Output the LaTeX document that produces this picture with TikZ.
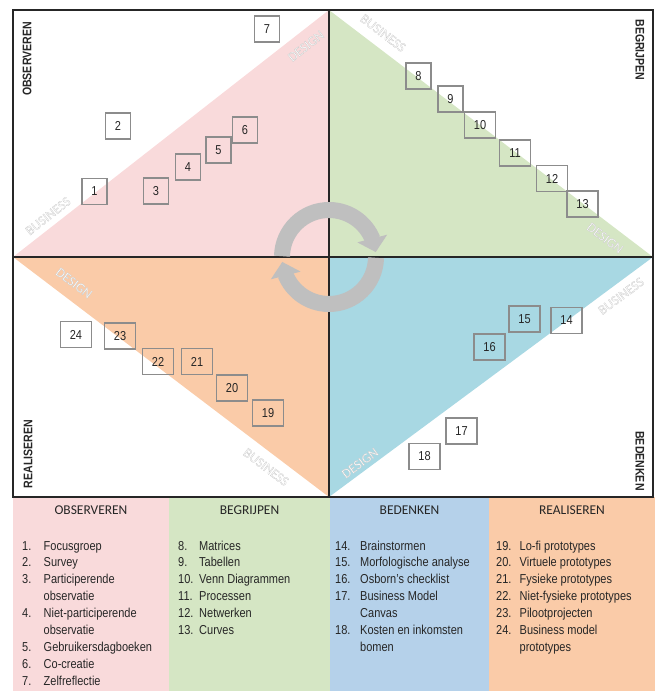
\documentclass[tikz,border=0pt]{standalone}
\usepackage{fontspec}
\setmainfont{Liberation Sans}
\newfontfamily\narrowfont[FakeStretch=0.85]{Liberation Sans}
\newfontfamily\calfont{Carlito}
\usetikzlibrary{arrows.meta,bending}

\definecolor{qpink}{HTML}{F9DADB}
\definecolor{qgreen}{HTML}{D5E6C4}
\definecolor{qcyan}{HTML}{A8D8E3}
\definecolor{qorange}{HTML}{FACBA8}
\definecolor{tblue}{HTML}{B5D1EA}
\definecolor{boxgray}{HTML}{8C8C8C}
\definecolor{ringgray}{HTML}{BFBFBF}
\definecolor{ink}{HTML}{262626}

% white letters with a thin grey outline (fill + stroke text render mode)
\newcommand\outlined[1]{{\color{white}%
  \special{pdf:literal direct 0.76 G 0.22 w 2 Tr}#1%
  \special{pdf:literal direct 0 Tr}}}

\tikzset{
  numbox/.style={draw=boxgray, line width=1.2bp, minimum width=25bp,
    minimum height=26bp, inner sep=0pt, text=ink,
    font=\narrowfont\fontsize{13}{13}\selectfont},
  numboxwide/.style={numbox, minimum width=31bp},
  phase/.style={font=\narrowfont\bfseries\fontsize{12.5}{12.5}\selectfont,
    text=ink, inner sep=0pt},
  sidetag/.style={font=\calfont\fontsize{13.5}{13.5}\selectfont,
    inner sep=0pt},
  colhead/.style={font=\calfont\fontsize{13.5}{13.5}\selectfont,
    text=ink, inner sep=0pt, anchor=base},
  listtext/.style={font=\narrowfont\fontsize{13}{17}\selectfont,
    text=ink, inner sep=0pt, anchor=base west},
  ring/.style={draw=ringgray, line width=16bp},
}

\newcommand\diagtag[5]{%
  \node[sidetag, rotate=#4] (#1) at (#2,#3) {\outlined{#5}};}

\begin{document}
\begin{tikzpicture}[x=1bp, y=-1bp]
\useasboundingbox (0,0) rectangle (660,691);

% coloured halves of the four quadrants
\fill[qpink]   (13,257) -- (329,10) -- (329,257) -- cycle;
\fill[qgreen]  (329,10) -- (653,257) -- (329,257) -- cycle;
\fill[qorange] (13,257) -- (329,257) -- (329,497) -- cycle;
\fill[qcyan]   (329,257) -- (653,257) -- (329,497) -- cycle;

% legend columns
\fill[qpink]   (13,497) rectangle (169,691);
\fill[qgreen]  (169,497) rectangle (330,691);
\fill[tblue]   (330,497) rectangle (489,691);
\fill[qorange] (489,497) rectangle (655,691);

% frame and quadrant dividers
\draw[line width=1.2bp, ink] (329,10) -- (329,497);
\draw[line width=1.2bp, ink] (13,257) -- (653,257);
\draw[line width=2bp, ink] (13,10) rectangle (653,497);

% cycle arrows in the middle
\coordinate (hub) at (329,257);
\draw[ring, -{Triangle[length=14bp,width=30bp]}]
  ([shift={(-179:47)}]hub) arc[start angle=-179, end angle=-6, radius=47];
\draw[ring, -{Triangle[length=14bp,width=30bp]}]
  ([shift={(1:47)}]hub) arc[start angle=1, end angle=174, radius=47];

% phase names
\node[phase, rotate=90]  (pObs) at (27,59)   {OBSERVEREN};
\node[phase, rotate=-90] (pBeg) at (640,50)  {BEGRIJPEN};
\node[phase, rotate=90]  (pRea) at (28,454)  {REALISEREN};
\node[phase, rotate=-90] (pBed) at (640,461) {BEDENKEN};

% business / design ends of each diagonal
\diagtag{tlBus}{48}{216}{38}{BUSINESS}
\diagtag{tlDes}{306}{46}{38}{DESIGN}
\diagtag{trBus}{383}{33}{-37.3}{BUSINESS}
\diagtag{trDes}{605}{238}{-37.3}{DESIGN}
\diagtag{blDes}{74}{283}{-37.2}{DESIGN}
\diagtag{blBus}{266}{467}{-37.2}{BUSINESS}
\diagtag{brBus}{621}{296}{36.5}{BUSINESS}
\diagtag{brDes}{360}{463}{36.5}{DESIGN}

% numbered methods
\node[numbox] (b1) at (94.5,191.5) {1};
\node[numbox] (b2) at (118,126)    {2};
\node[numbox] (b3) at (156,191)    {3};
\node[numbox] (b4) at (188,167)    {4};
\node[numbox] (b5) at (218.5,150)  {5};
\node[numbox] (b6) at (245,130)    {6};
\node[numbox] (b7) at (267,29)     {7};

\node[numbox]     (b8)  at (418.5,76)  {8};
\node[numbox]     (b9)  at (450.5,99)  {9};
\node[numboxwide] (b10) at (480,125)   {10};
\node[numboxwide] (b11) at (515,153)   {11};
\node[numboxwide] (b12) at (552,178.5) {12};
\node[numboxwide] (b13) at (582.5,204) {13};

\node[numboxwide] (b14) at (566.5,320.5) {14};
\node[numboxwide] (b15) at (524.5,319)   {15};
\node[numboxwide] (b16) at (489.5,347)   {16};
\node[numboxwide] (b17) at (461.5,431)   {17};
\node[numboxwide] (b18) at (424.5,456.5) {18};

\node[numboxwide] (b19) at (268,413)   {19};
\node[numboxwide] (b20) at (232,388)   {20};
\node[numboxwide] (b21) at (197,361.5) {21};
\node[numboxwide] (b22) at (158,361.5) {22};
\node[numboxwide] (b23) at (120,336)   {23};
\node[numboxwide] (b24) at (76,334.5)  {24};

% legend
\node[colhead] (hObs) at (91,514)    {OBSERVEREN};
\node[colhead] (hBeg) at (249.5,514) {BEGRIJPEN};
\node[colhead] (hBed) at (409.5,514) {BEDENKEN};
\node[colhead] (hRea) at (572,514)   {REALISEREN};

\node[listtext] (lObs) at (22,550) {\begin{tabular}[t]{@{}p{21.5bp}@{}l@{}}
1. & Focusgroep\\
2. & Survey\\
3. & Participerende\\
   & observatie\\
4. & Niet-participerende\\
   & observatie\\
5. & Gebruikersdagboeken\\
6. & Co-creatie\\
7. & Zelfreflectie
\end{tabular}};

\node[listtext] (lBeg) at (178,550) {\begin{tabular}[t]{@{}p{21bp}@{}l@{}}
8.  & Matrices\\
9.  & Tabellen\\
10. & Venn Diagrammen\\
11. & Processen\\
12. & Netwerken\\
13. & Curves
\end{tabular}};

\node[listtext] (lBed) at (335,550) {\begin{tabular}[t]{@{}p{25bp}@{}l@{}}
14. & Brainstormen\\
15. & Morfologische analyse\\
16. & Osborn’s checklist\\
17. & Business Model\\
    & Canvas\\
18. & Kosten en inkomsten\\
    & bomen
\end{tabular}};

\node[listtext] (lRea) at (496,550) {\begin{tabular}[t]{@{}p{23.5bp}@{}l@{}}
19. & Lo-fi prototypes\\
20. & Virtuele prototypes\\
21. & Fysieke prototypes\\
22. & Niet-fysieke prototypes\\
23. & Pilootprojecten\\
24. & Business model\\
    & prototypes
\end{tabular}};
\end{tikzpicture}
\end{document}
